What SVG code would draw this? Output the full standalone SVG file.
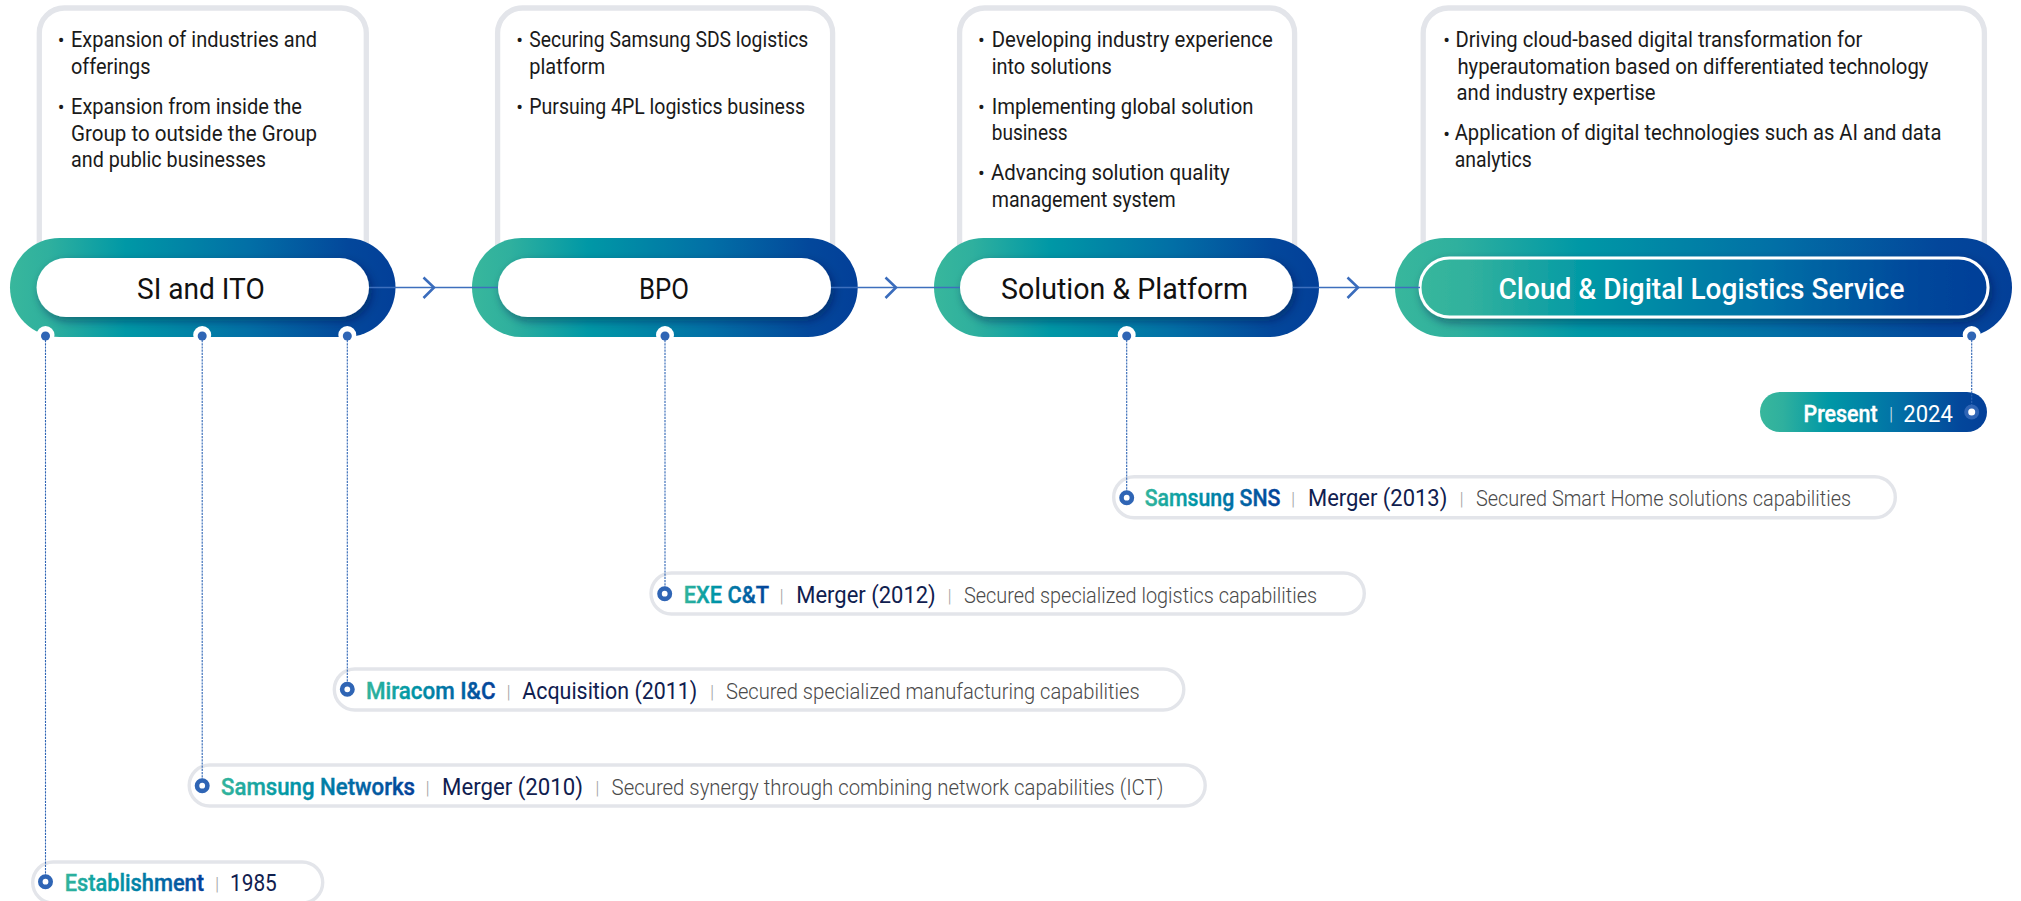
<svg xmlns="http://www.w3.org/2000/svg" width="2021" height="901" viewBox="0 0 2021 901">
<style>
text{font-family:Roboto,"Noto Sans","Liberation Sans",sans-serif}
.box{fill:#fff;stroke:#e3e5ea;stroke-width:5.3}
.body{font-size:22px;fill:#1a1a1a}
.bul{font-size:20px;fill:#1a1a1a;text-anchor:middle}
.title{font-size:30px;fill:#111;font-weight:400}
.inner{fill:#fff;filter:url(#sh)}
.notch{fill:#fff}
.pin{fill:#2f65b5}
.pill{fill:#fff;stroke:#e3e5ea;stroke-width:3.4}
.ring{fill:#fff;stroke:#2f65b5;stroke-width:4.6}
.name{font-size:24px;font-weight:500;fill:url(#tg);stroke:url(#tg);stroke-width:.4px}
.ev{font-size:24px;fill:#10204f}
.desc{font-size:22px;font-weight:300;fill:#4a4a4a}
.sep{font-size:19px;font-weight:300;fill:#a5a5a5;text-anchor:middle}
.link{stroke:#3d6fbd;stroke-width:1.3;fill:none}
.chev{stroke:#3a6cbc;stroke-width:2.6;fill:none}
.dash{stroke:#2f65b5;stroke-width:1.1;stroke-dasharray:2.2 1;fill:none}
</style>
<defs>
<linearGradient id="bg" x1="0" y1="0" x2="1" y2="0"><stop offset="0" stop-color="#38b79c"/><stop offset=".1" stop-color="#2fb09e"/><stop offset=".3" stop-color="#0098a6"/><stop offset=".62" stop-color="#026fa6"/><stop offset=".88" stop-color="#03479b"/><stop offset="1" stop-color="#033f98"/></linearGradient>
<linearGradient id="tg" x1="0" y1="0" x2="1" y2="0"><stop offset="0" stop-color="#33b49c"/><stop offset=".35" stop-color="#0098a6"/><stop offset=".7" stop-color="#0268a5"/><stop offset="1" stop-color="#034098"/></linearGradient>
<filter id="sh" x="-10%" y="-30%" width="120%" height="170%"><feDropShadow dx="3" dy="4" stdDeviation="5" flood-color="#001a40" flood-opacity=".45"/></filter>
</defs>

<g id="node-si-ito">
<rect class="box" x="39.3" y="8" width="327" height="270" rx="25"/>
<text class="bul" x="61" y="47.2">•</text><text class="body" x="71" y="47" textLength="246" lengthAdjust="spacingAndGlyphs">Expansion of industries and</text>
<text class="body" x="71" y="74" textLength="79.4" lengthAdjust="spacingAndGlyphs">offerings</text>
<text class="bul" x="61" y="113.9">•</text><text class="body" x="71" y="114" textLength="231" lengthAdjust="spacingAndGlyphs">Expansion from inside the</text>
<text class="body" x="71" y="140.5" textLength="246" lengthAdjust="spacingAndGlyphs">Group to outside the Group</text>
<text class="body" x="71" y="167" textLength="195" lengthAdjust="spacingAndGlyphs">and public businesses</text>
<rect x="10" y="238" width="385.5" height="99" rx="49.5" fill="url(#bg)"/>
<rect class="inner" x="36.6" y="258" width="332.4" height="59" rx="29.5"/>
<text class="title" x="137" y="298.5" textLength="127.7" lengthAdjust="spacingAndGlyphs">SI and ITO</text>
<circle class="notch" cx="45.5" cy="335" r="9"/><circle class="pin" cx="45.5" cy="336" r="4.5"/>
<circle class="notch" cx="202.2" cy="335" r="9"/><circle class="pin" cx="202.2" cy="336" r="4.5"/>
<circle class="notch" cx="347.3" cy="335" r="9"/><circle class="pin" cx="347.3" cy="336" r="4.5"/>
</g>

<g id="node-bpo">
<rect class="box" x="497.6" y="8" width="335" height="270" rx="25"/>
<text class="bul" x="519.7" y="47.2">•</text><text class="body" x="529.3" y="47" textLength="279" lengthAdjust="spacingAndGlyphs">Securing Samsung SDS logistics</text>
<text class="body" x="529.3" y="74" textLength="76" lengthAdjust="spacingAndGlyphs">platform</text>
<text class="bul" x="519.7" y="113.9">•</text><text class="body" x="529.3" y="114" textLength="275.7" lengthAdjust="spacingAndGlyphs">Pursuing 4PL logistics business</text>
<rect x="472" y="238" width="385.7" height="99" rx="49.5" fill="url(#bg)"/>
<rect class="inner" x="498" y="258" width="333" height="59" rx="29.5"/>
<text class="title" x="639" y="298.5" textLength="50" lengthAdjust="spacingAndGlyphs">BPO</text>
<circle class="notch" cx="665" cy="335" r="9"/><circle class="pin" cx="665" cy="336" r="4.5"/>
</g>

<g id="node-solution">
<rect class="box" x="959.6" y="8" width="335" height="270" rx="25"/>
<text class="bul" x="981.3" y="47.2">•</text><text class="body" x="991.7" y="47" textLength="281" lengthAdjust="spacingAndGlyphs">Developing industry experience</text>
<text class="body" x="991.7" y="74" textLength="120" lengthAdjust="spacingAndGlyphs">into solutions</text>
<text class="bul" x="981.3" y="113.9">•</text><text class="body" x="991.7" y="114" textLength="261.7" lengthAdjust="spacingAndGlyphs">Implementing global solution</text>
<text class="body" x="991.7" y="140" textLength="76" lengthAdjust="spacingAndGlyphs">business</text>
<text class="bul" x="981.3" y="179.9">•</text><text class="body" x="991" y="180" textLength="238.7" lengthAdjust="spacingAndGlyphs">Advancing solution quality</text>
<text class="body" x="991.7" y="207" textLength="184" lengthAdjust="spacingAndGlyphs">management system</text>
<rect x="934" y="238" width="385" height="99" rx="49.5" fill="url(#bg)"/>
<rect class="inner" x="960" y="258" width="332.7" height="59" rx="29.5"/>
<text class="title" x="1001" y="298.5" textLength="247" lengthAdjust="spacingAndGlyphs">Solution &amp; Platform</text>
<circle class="notch" cx="1126.7" cy="335" r="9"/><circle class="pin" cx="1126.7" cy="336" r="4.5"/>
</g>

<g id="node-cloud">
<rect class="box" x="1423.2" y="8" width="561.2" height="270" rx="25"/>
<text class="bul" x="1446.7" y="47.2">•</text><text class="body" x="1455.4" y="47" textLength="407" lengthAdjust="spacingAndGlyphs">Driving cloud-based digital transformation for</text>
<text class="body" x="1457.4" y="74" textLength="471" lengthAdjust="spacingAndGlyphs">hyperautomation based on differentiated technology</text>
<text class="body" x="1456.6" y="100" textLength="199" lengthAdjust="spacingAndGlyphs">and industry expertise</text>
<text class="bul" x="1446.7" y="140.5">•</text><text class="body" x="1454.7" y="140" textLength="486.7" lengthAdjust="spacingAndGlyphs">Application of digital technologies such as AI and data</text>
<text class="body" x="1454.7" y="167" textLength="77" lengthAdjust="spacingAndGlyphs">analytics</text>
<rect x="1395" y="238" width="617" height="99" rx="49.5" fill="url(#bg)"/>
<rect x="1420" y="258" width="568" height="59" rx="29.5" fill="url(#bg)" stroke="#fff" stroke-width="3" filter="url(#sh)"/>
<text x="1498.5" y="298.5" font-size="30" font-weight="500" fill="#fff" textLength="406" lengthAdjust="spacingAndGlyphs">Cloud &amp; Digital Logistics Service</text>
<circle class="notch" cx="1971.7" cy="335" r="9"/><circle class="pin" cx="1971.7" cy="336" r="4.5"/>
</g>

<g id="node-present">
<rect x="1760" y="392" width="227" height="40" rx="20" fill="url(#bg)"/>
<text x="1803.6" y="422" font-size="24" font-weight="500" fill="#fff" stroke="#fff" stroke-width=".4" textLength="74" lengthAdjust="spacingAndGlyphs">Present</text>
<text x="1891" y="420" font-size="19" font-weight="300" fill="#cfe0ee" text-anchor="middle">|</text>
<text x="1903.3" y="422" font-size="24" fill="#fff" textLength="49.6" lengthAdjust="spacingAndGlyphs">2024</text>
<circle cx="1971.7" cy="412" r="7.5" fill="#2f65b5"/><circle cx="1971.7" cy="412" r="3.5" fill="#fff"/>
</g>

<g id="node-sns">
<rect class="pill" x="1113.7" y="476.7" width="781.6" height="41" rx="20.5"/>
<circle class="ring" cx="1126.7" cy="497.7" r="5.2"/>
<text class="name" x="1144.7" y="506" textLength="135.7" lengthAdjust="spacingAndGlyphs">Samsung SNS</text>
<text class="sep" x="1293" y="505">|</text>
<text class="ev" x="1308" y="506" textLength="139.3" lengthAdjust="spacingAndGlyphs">Merger (2013)</text>
<text class="sep" x="1461.7" y="505">|</text>
<text class="desc" x="1476" y="506" textLength="375" lengthAdjust="spacingAndGlyphs">Secured Smart Home solutions capabilities</text>
</g>

<g id="node-exe">
<rect class="pill" x="651" y="573" width="713.3" height="41" rx="20.5"/>
<circle class="ring" cx="664.7" cy="593.7" r="5.2"/>
<text class="name" x="683.7" y="602.7" textLength="85.3" lengthAdjust="spacingAndGlyphs">EXE C&amp;T</text>
<text class="sep" x="781.7" y="601.7">|</text>
<text class="ev" x="796.3" y="602.7" textLength="139.4" lengthAdjust="spacingAndGlyphs">Merger (2012)</text>
<text class="sep" x="949.7" y="601.7">|</text>
<text class="desc" x="964" y="602.7" textLength="353" lengthAdjust="spacingAndGlyphs">Secured specialized logistics capabilities</text>
</g>

<g id="node-miracom">
<rect class="pill" x="334.3" y="669" width="849.5" height="41" rx="20.5"/>
<circle class="ring" cx="347.3" cy="689.3" r="5.2"/>
<text class="name" x="366" y="699" textLength="129.5" lengthAdjust="spacingAndGlyphs">Miracom I&amp;C</text>
<text class="sep" x="508.5" y="698">|</text>
<text class="ev" x="522.3" y="699" textLength="175" lengthAdjust="spacingAndGlyphs">Acquisition (2011)</text>
<text class="sep" x="712" y="698">|</text>
<text class="desc" x="726" y="699" textLength="413.6" lengthAdjust="spacingAndGlyphs">Secured specialized manufacturing capabilities</text>
</g>

<g id="node-networks">
<rect class="pill" x="189.2" y="765" width="1016" height="41" rx="20.5"/>
<circle class="ring" cx="202.2" cy="785.7" r="5.2"/>
<text class="name" x="221" y="795" textLength="194" lengthAdjust="spacingAndGlyphs">Samsung Networks</text>
<text class="sep" x="427.7" y="794">|</text>
<text class="ev" x="442" y="795" textLength="141" lengthAdjust="spacingAndGlyphs">Merger (2010)</text>
<text class="sep" x="597.3" y="794">|</text>
<text class="desc" x="611.6" y="795" textLength="551.7" lengthAdjust="spacingAndGlyphs">Secured synergy through combining network capabilities (ICT)</text>
</g>

<g id="node-establishment">
<rect class="pill" x="32.7" y="862" width="290" height="41" rx="20.5"/>
<circle class="ring" cx="45.5" cy="881.7" r="5.2"/>
<text class="name" x="64.7" y="891.3" textLength="139.3" lengthAdjust="spacingAndGlyphs">Establishment</text>
<text class="sep" x="217" y="890.3">|</text>
<text class="ev" x="230" y="891.3" textLength="46.8" lengthAdjust="spacingAndGlyphs">1985</text>
</g>

<g id="connectors">
<path class="link" d="M369 287.5H498M831 287.5H960M1292.7 287.5H1420"/>
<path class="chev" d="M423.5 277.5L434 287.5L423.5 298M885.5 277.5L896 287.5L885.5 298M1347.5 277.5L1358 287.5L1347.5 298"/>
<path class="dash" d="M45.5 340V876M202.2 340V780M347.3 340V684M665 340V588M1126.7 340V492M1971.7 340V405"/>
</g>
</svg>
